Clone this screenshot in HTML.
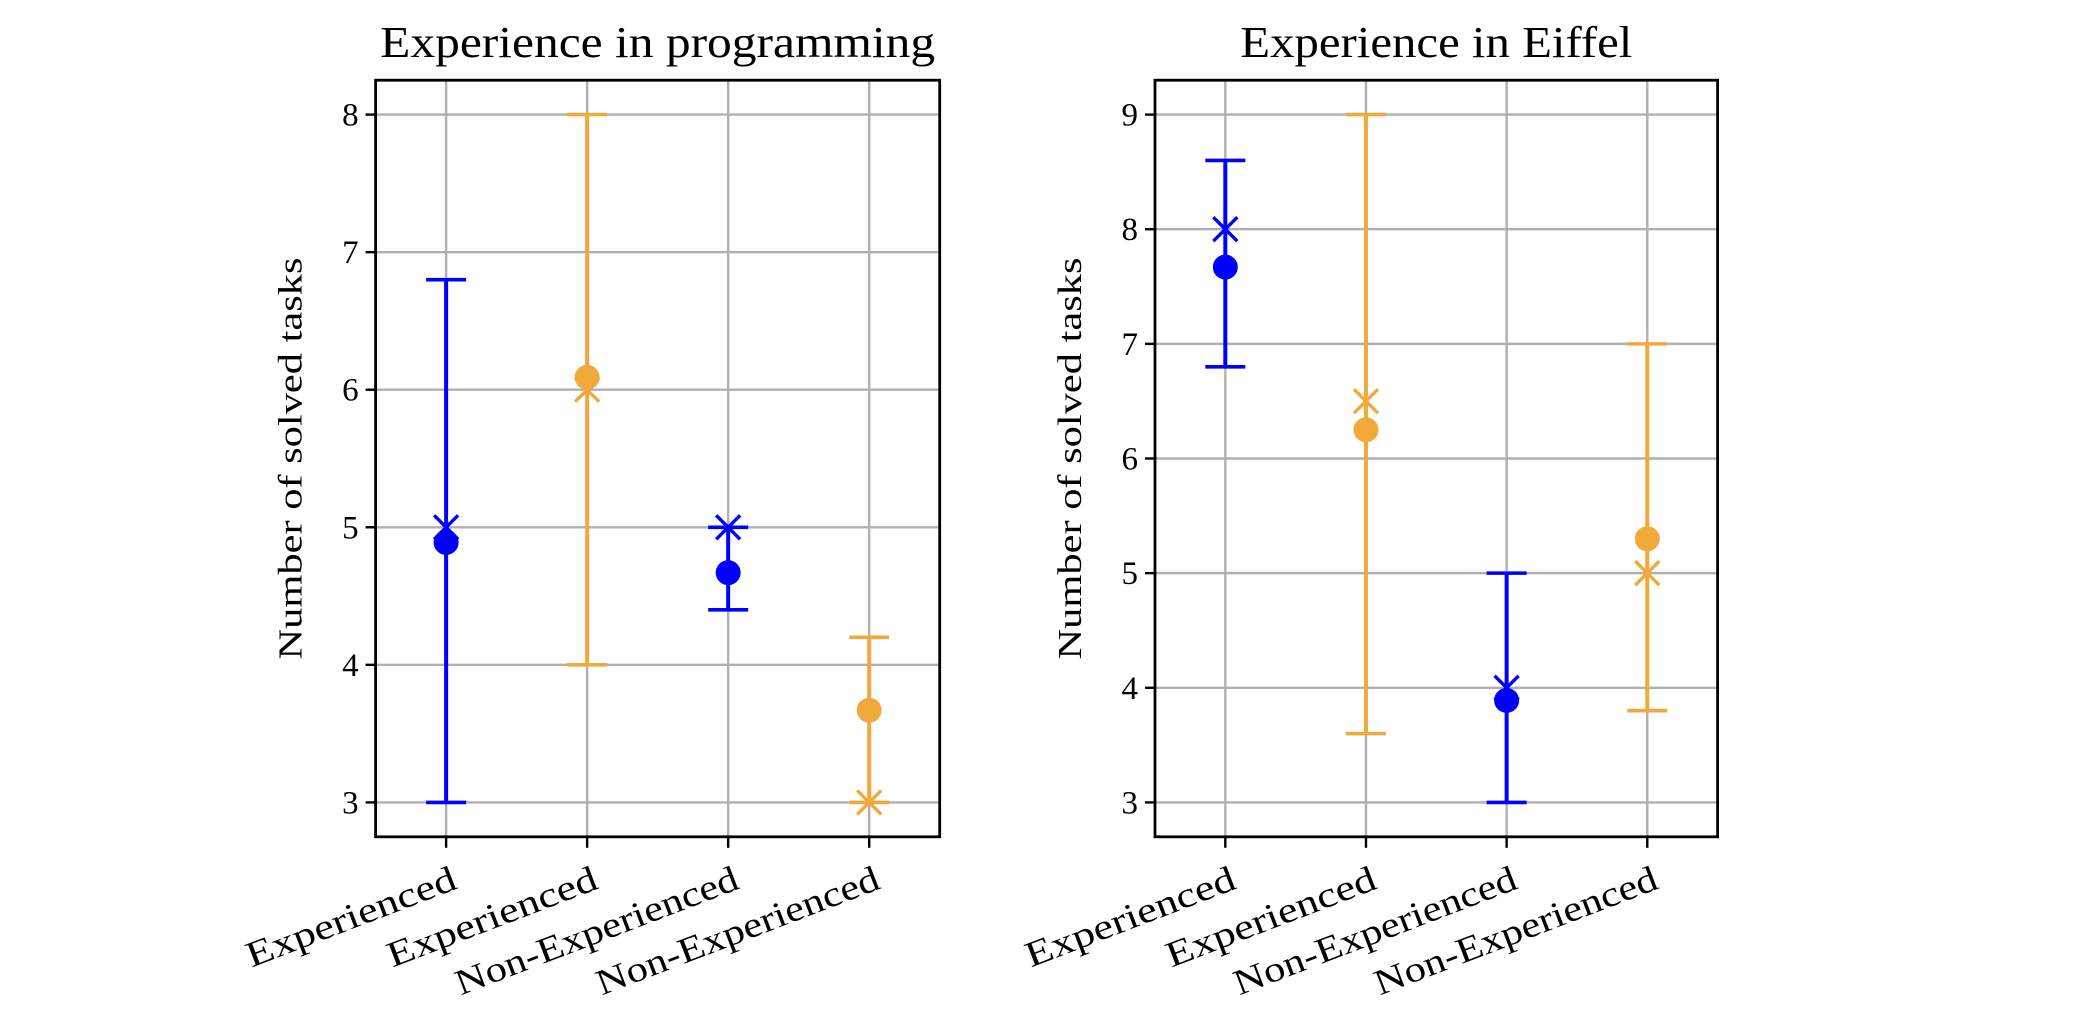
<!DOCTYPE html>
<html><head><meta charset="utf-8"><style>
html,body{margin:0;padding:0;background:#fff}
svg{display:block}
text{font-family:"Liberation Serif",serif;fill:#000}
</style></head><body>
<svg id="fig" width="2096" height="1030" viewBox="0 0 2096 1030" xmlns="http://www.w3.org/2000/svg"></svg>
<script>
const categories = ["Experienced","Experienced","Non-Experienced","Non-Experienced"];
const seriesColors = ["#0000ff","#f2a93b","#0000ff","#f2a93b"];
// Panel 1: Experience in programming
const p1Means = [4.89, 6.09, 4.67, 3.67];
const p1Medians = [5, 6, 5, 3];
const p1Low = [3, 4, 4.4, 3];
const p1High = [6.8, 8, 5, 4.2];
const p1Ticks = [3,4,5,6,7,8];
// Panel 2: Experience in Eiffel
const p2Means = [7.67, 6.25, 3.89, 5.3];
const p2Medians = [8, 6.5, 4, 5];
const p2Low = [6.8, 3.6, 3, 3.8];
const p2High = [8.6, 9, 5, 7];
const p2Ticks = [3,4,5,6,7,8,9];

const NS="http://www.w3.org/2000/svg";
const svg=document.getElementById('fig');
function mk(tag,attrs,parent){const e=document.createElementNS(NS,tag);for(const k in attrs)e.setAttribute(k,attrs[k]);(parent||svg).appendChild(e);return e;}

function panel(cfg){
  const g=mk('g',{});
  
  
  const L=cfg.left,R=cfg.right,T=80.2,B=836.8;
  const xs=v=>L+(v-(-0.5))/(4)*(R-L);
  const ys=v=>B-(v-cfg.ymin)/(cfg.ymax-cfg.ymin)*(B-T);
  cfg.ticks.forEach(t=>{
    const l=mk('line',{x1:L,x2:R,y1:ys(t),y2:ys(t),stroke:'#b0b0b0','stroke-width':2.4},g);
    
    
  });
  categories.forEach((c,i)=>{
    const l=mk('line',{x1:xs(i),x2:xs(i),y1:T,y2:B,stroke:'#b0b0b0','stroke-width':2.4},g);
    
    
  });
  categories.forEach((c,i)=>{
    const col=seriesColors[i],x=xs(i);
    const eg=mk('g',{},g);
    
    
    mk('line',{x1:x,x2:x,y1:ys(cfg.low[i]),y2:ys(cfg.high[i]),stroke:col,'stroke-width':4},eg);
    mk('line',{x1:x-20,x2:x+20,y1:ys(cfg.low[i]),y2:ys(cfg.low[i]),stroke:col,'stroke-width':3.6},eg);
    mk('line',{x1:x-20,x2:x+20,y1:ys(cfg.high[i]),y2:ys(cfg.high[i]),stroke:col,'stroke-width':3.6},eg);
    const my=ys(cfg.medians[i]);
    const mx=mk('path',{d:`M${x-12},${my-12}L${x+12},${my+12}M${x-12},${my+12}L${x+12},${my-12}`,stroke:col,'stroke-width':3.4,fill:'none'},g);
    
    
    const dot=mk('circle',{cx:x,cy:ys(cfg.means[i]),r:12.5,fill:col},g);
    
    
  });
  const fr=mk('rect',{x:L,y:T,width:R-L,height:B-T,fill:'none',stroke:'#000','stroke-width':2.8},g);
  
  
  cfg.ticks.forEach(t=>{
    mk('line',{x1:L-10,x2:L,y1:ys(t),y2:ys(t),stroke:'#000','stroke-width':2.4},g);
    const tx=mk('text',{x:L-17,y:ys(t)+11,'font-size':33,'text-anchor':'end'},g);
    tx.textContent=t;
    
    
  });
  categories.forEach((c,i)=>{
    const x=xs(i);
    mk('line',{x1:x,x2:x,y1:B,y2:B+11,stroke:'#000','stroke-width':2.4},g);
    const tg=mk('g',{transform:`translate(${x+3},${B+26}) rotate(-21)`},g);
    const tx=mk('text',{x:0,y:27,'font-size':36,'text-anchor':'end',textLength:c.length>12?300:222,lengthAdjust:'spacingAndGlyphs'},tg);
    tx.textContent=c;
    
    
  });
  const yl=mk('text',{transform:`translate(${L-74},${(T+B)/2}) rotate(-90)`,'font-size':34,'text-anchor':'middle',textLength:402,lengthAdjust:'spacingAndGlyphs'},g);
  yl.textContent='Number of solved tasks';
  
  
  const ti=mk('text',{x:(L+R)/2,y:57,'font-size':44,'text-anchor':'middle',textLength:cfg.titleLen,lengthAdjust:'spacingAndGlyphs'},g);
  ti.textContent=cfg.title;
  
  
}
panel({name:'programming-panel',left:375.6,right:939.7,ymin:2.75,ymax:8.25,ticks:p1Ticks,means:p1Means,medians:p1Medians,low:p1Low,high:p1High,title:'Experience in programming',titleLen:555});
panel({name:'eiffel-panel',left:1155,right:1717.6,ymin:2.7,ymax:9.3,ticks:p2Ticks,means:p2Means,medians:p2Medians,low:p2Low,high:p2High,title:'Experience in Eiffel',titleLen:392});
</script>
</body></html>
